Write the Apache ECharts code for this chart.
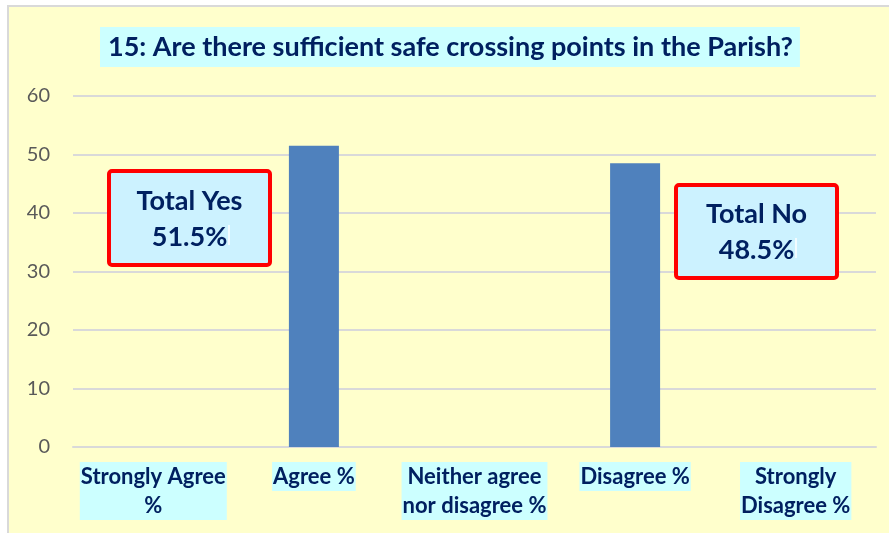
<!DOCTYPE html>
<html>
<head>
<meta charset="utf-8">
<script src="https://cdn.jsdelivr.net/npm/echarts@6/dist/echarts.min.js"></script>
<style>
  html, body { margin: 0; padding: 0; background: #ffffff; }
  #chart { width: 889px; height: 533px; }
</style>
</head>
<body>
<div id="chart"></div>
<script>
// data
const categories = ['Strongly Agree\n%', 'Agree %', 'Neither agree\nnor disagree %', 'Disagree %', 'Strongly\nDisagree %'];
const percentValues = [0, 51.5, 0, 48.5, 0];
const yTicks = { min: 0, max: 60, interval: 10 };
const totalYes = 'Total Yes\n51.5%';
const totalNo = 'Total No\n48.5%';

const navy = '#002060';
const fontName = 'Lato, "Open Sans", sans-serif';

const chartDom = document.getElementById('chart');
const myChart = echarts.init(chartDom);

// the red framed note boxes
function noteBox(x, y, w, h, text, caretX, caretY) {
    return {
        type: 'group',
        z: 100,
        children: [
            {
                type: 'rect',
                z: 100,
                shape: { x: x, y: y, width: w, height: h, r: 3 },
                style: { fill: '#CCF2FF', stroke: '#FF0000', lineWidth: 4 }
            },
            {
                type: 'text',
                z: 101,
                x: x + w / 2,
                y: y + h / 2 + 1,
                style: {
                    text: text,
                    font: 'bold 27px ' + fontName,
                    fill: navy,
                    align: 'center',
                    verticalAlign: 'middle',
                    lineHeight: 36
                }
            },
            {
                type: 'line',
                z: 101,
                shape: { x1: caretX, y1: caretY, x2: caretX, y2: caretY + 20 },
                style: { stroke: '#ffffff', lineWidth: 1.5 }
            }
        ]
    };
}

const option = {
    backgroundColor: '#ffffff',
    animation: false,
    title: {
        text: '15: Are there sufficient safe crossing points in the Parish?',
        left: 100,
        top: 27,
        padding: [7, 7, 6, 8],
        backgroundColor: '#CCFFFF',
        textStyle: {
            fontFamily: fontName,
            fontWeight: 'bold',
            fontSize: 27,
            color: navy
        }
    },
    grid: { left: 73, right: 13, top: 96, bottom: 86 },
    xAxis: {
        type: 'category',
        data: categories,
        axisTick: { show: false },
        axisLine: { lineStyle: { color: '#D9D9D9', width: 2 } },
        axisLabel: {
            interval: 0,
            margin: 15,
            fontFamily: fontName,
            fontWeight: 'bold',
            fontSize: 22,
            lineHeight: 29,
            color: navy,
            backgroundColor: '#CCFFFF',
            padding: [0, 1]
        }
    },
    yAxis: {
        type: 'value',
        min: yTicks.min,
        max: yTicks.max,
        interval: yTicks.interval,
        axisLine: { show: false },
        axisTick: { show: false },
        splitLine: { lineStyle: { color: '#D9D9D9', width: 2 } },
        axisLabel: {
            margin: 23,
            fontFamily: fontName,
            fontSize: 20,
            color: '#595959'
        }
    },
    series: [
        {
            type: 'bar',
            data: percentValues,
            barWidth: 50,
            itemStyle: { color: '#4F81BD' }
        }
    ],
    graphic: [
        {
            type: 'rect',
            z: -10,
            silent: true,
            shape: { x: 8, y: 6, width: 900, height: 540 },
            style: { fill: '#FFFFCC', stroke: '#D9D9D9', lineWidth: 2 }
        },
        noteBox(109, 171, 161, 94, totalYes, 229, 225),
        noteBox(676, 185, 161, 93, totalNo, 796, 238)
    ]
};

option && myChart.setOption(option);
</script>
</body>
</html>
